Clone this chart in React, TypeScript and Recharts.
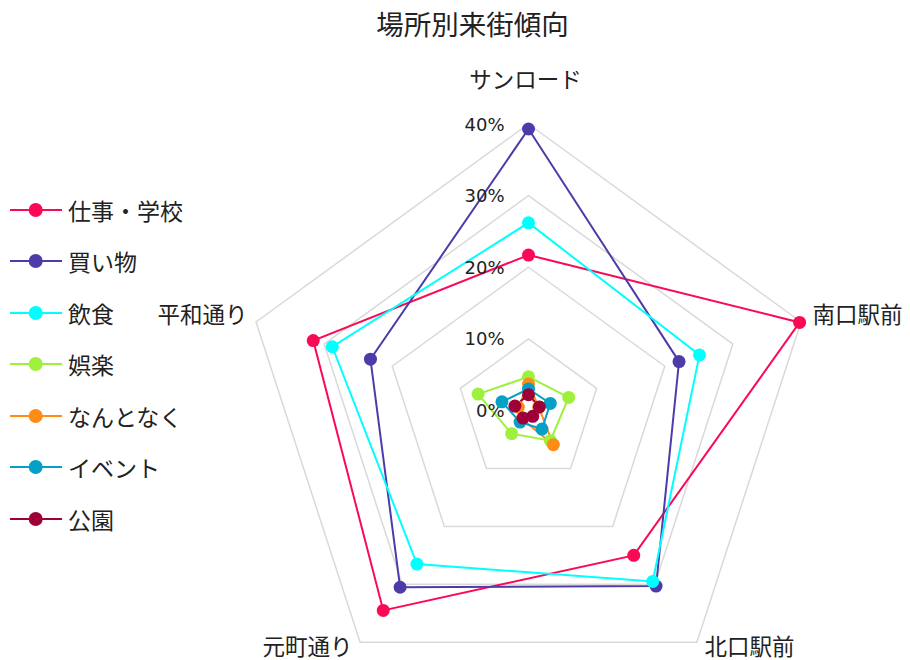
import { Legend, PolarAngleAxis, PolarGrid, PolarRadiusAxis, Radar, RadarChart } from 'recharts'

const categories = ['サンロード', '南口駅前', '北口駅前', '元町通り', '平和通り']
const seriesNames = ['仕事・学校', '買い物', '飲食', '娯楽', 'なんとなく', 'イベント', '公園']
const seriesColors = ['#FA0A55', '#4E3BAA', '#00FFFF', '#9EF03C', '#FF8C14', '#04A0C8', '#9E0038']

const work = [21.7, 39.8, 25.0, 34.5, 31.6]
const shopping = [39.3, 22.1, 30.3, 30.5, 23.2]
const food = [26.2, 25.1, 29.5, 26.5, 28.8]
const fun = [4.7, 5.9, 5.2, 4.0, 7.4]
const casual = [3.7, 1.5, 5.9, 1.5, 1.5]
const events = [3.0, 3.2, 3.2, 2.0, 3.9]
const park = [2.2, 1.6, 1.0, 1.3, 2.0]

const seriesValues = [work, shopping, food, fun, casual, events, park]
const radiusTicks = [0, 10, 20, 30, 40]

const data = categories.map((cat, i) => {
  const row: Record<string, any> = { cat }
  seriesValues.forEach((vals, s) => { row['s' + s] = vals[i] })
  return row
})

const JP = '"DejaVu Sans", "Noto Sans CJK JP", sans-serif'

// nudges for the five place names around the pentagon
const labelShift = [
  { dx: -3, dy: -36, anchor: 'middle' },
  { dx: 4, dy: -4, anchor: 'start' },
  { dx: 3, dy: -2, anchor: 'start' },
  { dx: -3, dy: -2, anchor: 'end' },
  { dx: -1, dy: -4, anchor: 'end' },
]

function AngleTick(props: any) {
  const { x, y, payload, index } = props
  const s = labelShift[index] ?? { dx: 0, dy: 0, anchor: 'middle' }
  return (
    <text x={x + s.dx} y={y + s.dy} textAnchor={s.anchor} dominantBaseline="central"
      fontSize={22.5} fill="#222" fontFamily={JP}>
      {payload.value}
    </text>
  )
}

function RadiusTick(props: any) {
  const { x, y, payload } = props
  return (
    <text x={x - 24} y={y} textAnchor="end" dominantBaseline="central"
      fontSize={18} fill="#222" fontFamily={JP}>
      {payload.value + '%'}
    </text>
  )
}

function LegendBox() {
  return (
    <div style={{ fontFamily: JP }}>
      {seriesNames.map((name, i) => (
        <div key={name} style={{ height: 51.5, display: 'flex', alignItems: 'center' }}>
          <svg width={62} height={16} style={{ flex: 'none' }}>
            <line x1={10} y1={8} x2={62} y2={8} stroke={seriesColors[i]} strokeWidth={2} />
            <circle cx={35.7} cy={8} r={7} fill={seriesColors[i]} />
          </svg>
          <span style={{ marginLeft: 6, fontSize: 23, color: '#222', whiteSpace: 'nowrap' }}>{name}</span>
        </div>
      ))}
    </div>
  )
}

const makeDot = (color: string) => (p: any) => (
  <circle key={'d' + p.index + color} cx={p.cx} cy={p.cy} r={6.5} fill={color} />
)

export default function App() {
  return (
    <div style={{ position: 'absolute', left: 0, top: 0, width: 910, height: 660, background: '#fff' }}>
      <div style={{
        position: 'absolute', left: 0, width: 945, top: 9, textAlign: 'center',
        fontSize: 27.5, lineHeight: '32px', fontFamily: JP, color: '#222',
      }}>
        場所別来街傾向
      </div>
      <RadarChart width={910} height={660} data={data} cx={528.5} cy={410.5} outerRadius={286.5}
        startAngle={90} endAngle={-270}>
        <PolarGrid gridType="polygon" radialLines={false} stroke="#d9d9d9" strokeWidth={1.5} />
        <PolarAngleAxis dataKey="cat" tick={<AngleTick />} tickLine={false} axisLine={false} />
        <PolarRadiusAxis angle={90} domain={[0, 40]} ticks={radiusTicks} tickCount={5}
          axisLine={false} tickLine={false} tick={<RadiusTick />} />
        {seriesNames.map((name, i) => (
          <Radar key={name} name={name} dataKey={'s' + i} stroke={seriesColors[i]} strokeWidth={2}
            fill="none" fillOpacity={0} dot={makeDot(seriesColors[i])}
            isAnimationActive={false} />
        ))}
        <Legend layout="vertical" align="left" verticalAlign="top" content={<LegendBox />}
          wrapperStyle={{ left: 0, top: 184, width: 220 }} />
      </RadarChart>
    </div>
  )
}
